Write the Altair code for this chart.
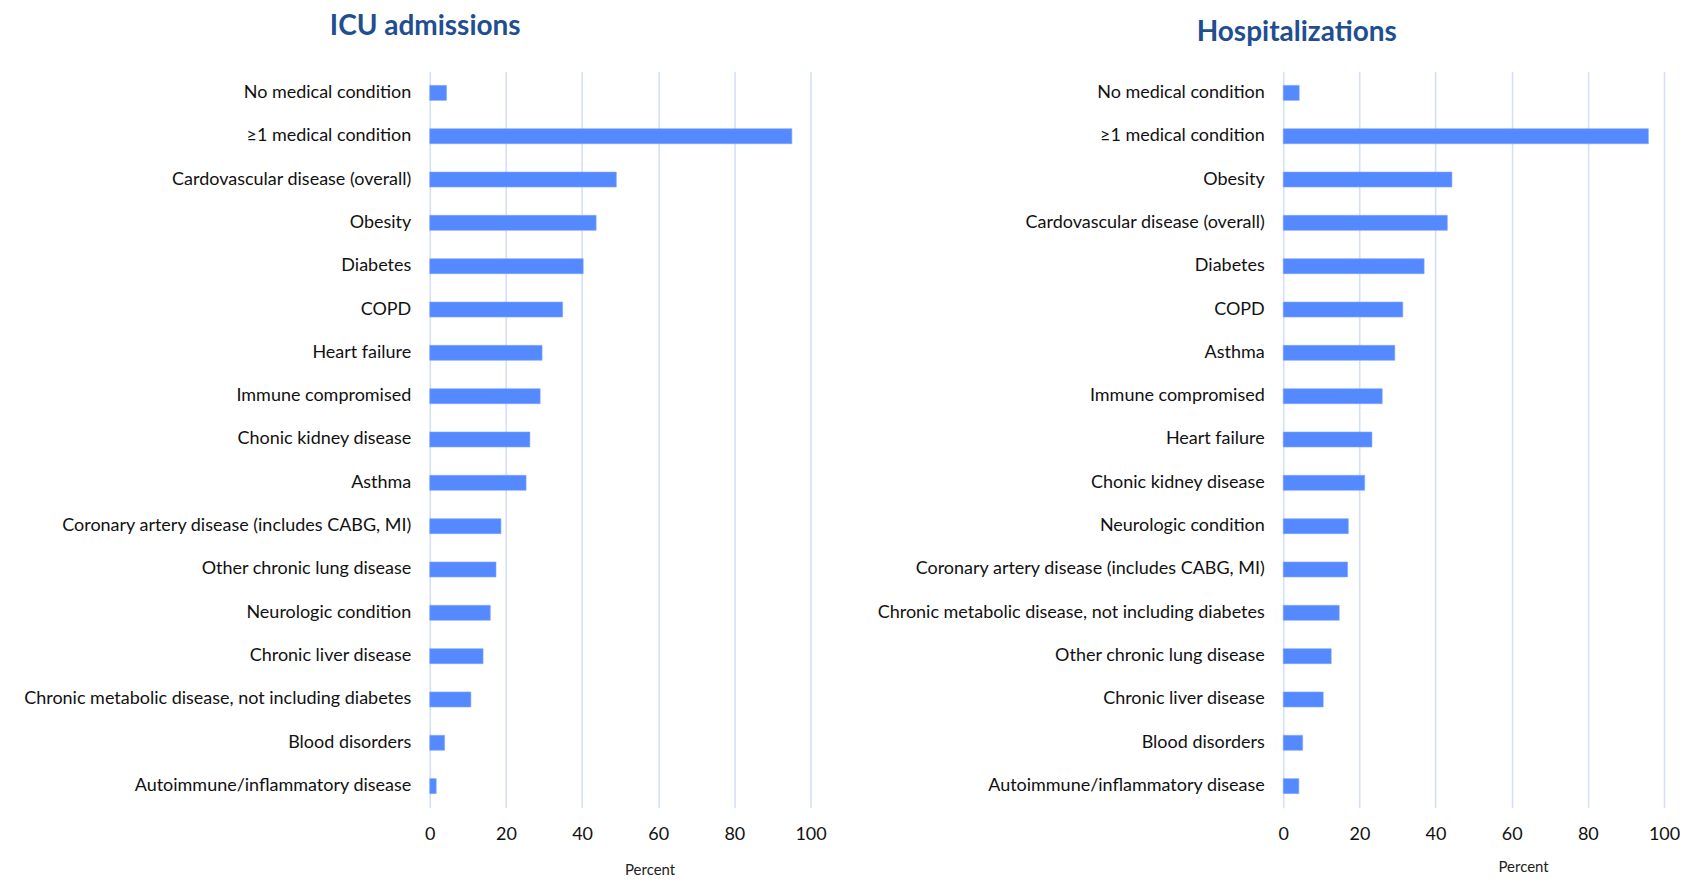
import altair as alt
import pandas as pd

icu_conditions = [
    "No medical condition", "≥1 medical condition", "Cardovascular disease (overall)",
    "Obesity", "Diabetes", "COPD", "Heart failure", "Immune compromised",
    "Chonic kidney disease", "Asthma", "Coronary artery disease (includes CABG, MI)",
    "Other chronic lung disease", "Neurologic condition", "Chronic liver disease",
    "Chronic metabolic disease, not including diabetes", "Blood disorders",
    "Autoimmune/inflammatory disease",
]
icu_values = [4.4, 95.1, 49.0, 43.7, 40.3, 34.9, 29.5, 29.0, 26.3, 25.3, 18.7, 17.4, 15.9, 14.0, 10.8, 3.9, 1.7]

hosp_conditions = [
    "No medical condition", "≥1 medical condition", "Obesity", "Cardovascular disease (overall)",
    "Diabetes", "COPD", "Asthma", "Immune compromised", "Heart failure",
    "Chonic kidney disease", "Neurologic condition", "Coronary artery disease (includes CABG, MI)",
    "Chronic metabolic disease, not including diabetes", "Other chronic lung disease",
    "Chronic liver disease", "Blood disorders", "Autoimmune/inflammatory disease",
]
hosp_values = [4.2, 95.9, 44.3, 43.1, 37.0, 31.4, 29.3, 26.0, 23.3, 21.4, 17.1, 16.9, 14.7, 12.6, 10.5, 5.1, 4.1]

x_ticks = [0, 20, 40, 60, 80, 100]

FONT = "Lato"
BAR = "#5589FF"
GRID = "#D5E0F7"
TITLE_COLOR = "#1F4E91"

PLOT_W = 381
PLOT_H = 737


def panel(conds, vals, title, title_dx, title_dy, y_extent, xt_x, title_pad):
    df = pd.DataFrame({"condition": conds, "value": vals})
    return (
        alt.Chart(df)
        .mark_bar(color=BAR, stroke="#7FA6FF", strokeWidth=0.6)
        .encode(
            x=alt.X(
                "value:Q",
                scale=alt.Scale(domain=[0, 100], nice=False),
                axis=alt.Axis(
                    values=x_ticks, title="Percent", grid=True, gridColor=GRID,
                    gridWidth=1.6, domain=False, ticks=False, labelPadding=18,
                    labelFlush=False, labelFontSize=18, labelColor="#111111",
                    labelFont=FONT, titleFont=FONT, titleFontSize=15,
                    titleFontWeight="normal", titleColor="#222222",
                    titleX=xt_x, titlePadding=title_pad, titleAlign="center",
                ),
            ),
            y=alt.Y(
                "condition:N",
                sort=conds,
                scale=alt.Scale(paddingInner=0.654, paddingOuter=0.327),
                axis=alt.Axis(
                    title=None, domain=False, ticks=False, labelPadding=19,
                    labelFontSize=18, labelColor="#111111", labelFont=FONT,
                    labelLimit=600, minExtent=y_extent, maxExtent=y_extent,
                ),
            ),
        )
        .properties(
            width=PLOT_W,
            height=PLOT_H,
            view=alt.ViewBackground(strokeWidth=0, stroke="transparent"),
            title=alt.TitleParams(
                title, font=FONT, fontSize=28, fontWeight="bold", color=TITLE_COLOR,
                anchor="middle", frame="group", dx=title_dx, dy=title_dy, offset=30,
            ),
        )
    )


left = panel(icu_conditions, icu_values, "ICU admissions", -195, 0, 422, 220, 19)
right = panel(hosp_conditions, hosp_values, "Hospitalizations", -177, 6, 420, 240, 16)

chart = (
    alt.hconcat(left, right, spacing=37)
    .properties(padding={"left": 0, "top": 5, "right": 0, "bottom": 0})
    .configure_view(strokeWidth=0, stroke="transparent")
    .configure(background="white")
)

chart.save("out.html", embed_options={"renderer": "svg", "actions": False})
